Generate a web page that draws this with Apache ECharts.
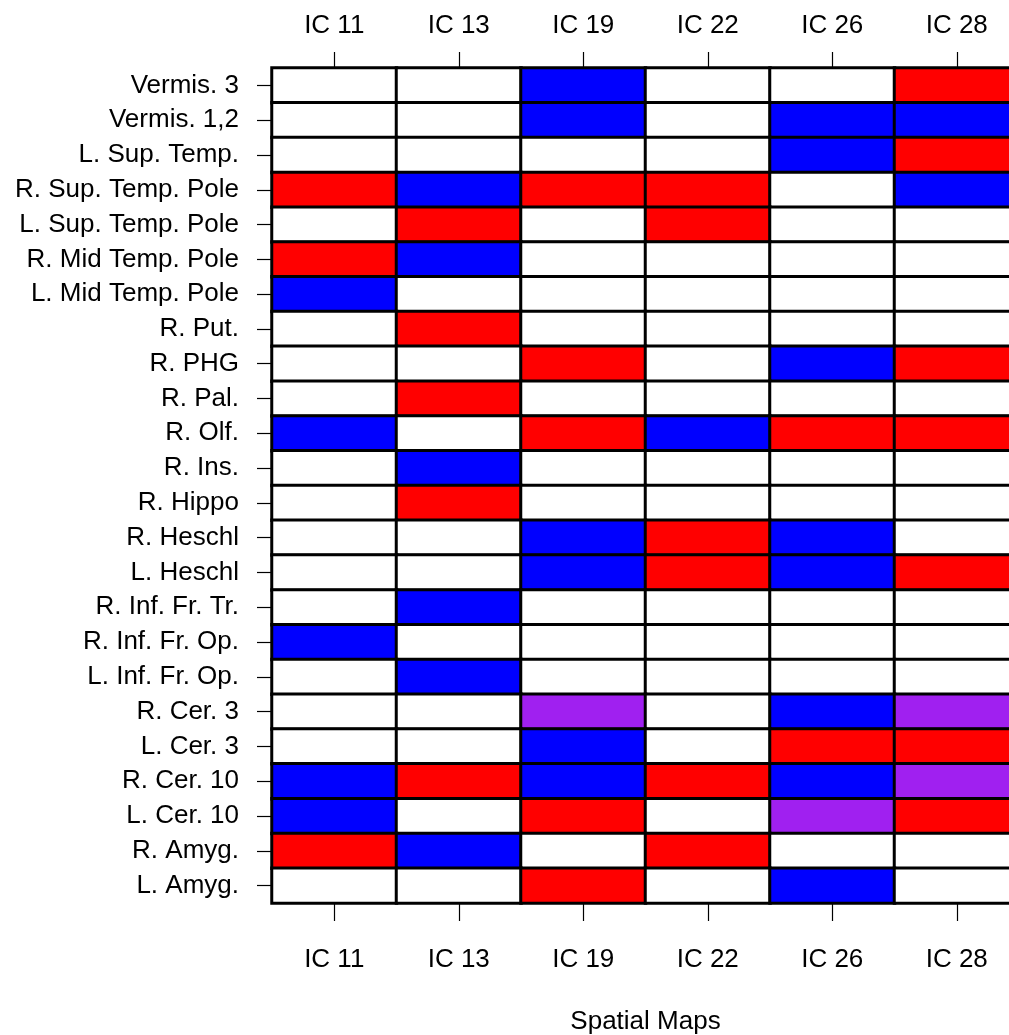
<!DOCTYPE html>
<html>
<head>
<meta charset="utf-8">
<title>Spatial Maps</title>
<script src="https://cdn.jsdelivr.net/npm/echarts@6/dist/echarts.min.js"></script>
<style>
  html, body { margin: 0; padding: 0; background: #fff; }
  #chart { width: 1009px; height: 1035px; }
</style>
</head>
<body>
<div id="chart"></div>
<script>
// Independent components (columns)
const components = ['IC 11', 'IC 13', 'IC 19', 'IC 22', 'IC 26', 'IC 28'];

// Brain regions, listed top to bottom
const regions = [
  'Vermis. 3', 'Vermis. 1,2', 'L. Sup. Temp.', 'R. Sup. Temp. Pole',
  'L. Sup. Temp. Pole', 'R. Mid Temp. Pole', 'L. Mid Temp. Pole', 'R. Put.',
  'R. PHG', 'R. Pal.', 'R. Olf.', 'R. Ins.', 'R. Hippo', 'R. Heschl',
  'L. Heschl', 'R. Inf. Fr. Tr.', 'R. Inf. Fr. Op.', 'L. Inf. Fr. Op.',
  'R. Cer. 3', 'L. Cer. 3', 'R. Cer. 10', 'L. Cer. 10', 'R. Amyg.', 'L. Amyg.'
];

// Cell state per region: 0 = none, 1 = positive, -1 = negative, 2 = both
const states = [
  [ 0,  0, -1,  0,  0,  1],
  [ 0,  0, -1,  0, -1, -1],
  [ 0,  0,  0,  0, -1,  1],
  [ 1, -1,  1,  1,  0, -1],
  [ 0,  1,  0,  1,  0,  0],
  [ 1, -1,  0,  0,  0,  0],
  [-1,  0,  0,  0,  0,  0],
  [ 0,  1,  0,  0,  0,  0],
  [ 0,  0,  1,  0, -1,  1],
  [ 0,  1,  0,  0,  0,  0],
  [-1,  0,  1, -1,  1,  1],
  [ 0, -1,  0,  0,  0,  0],
  [ 0,  1,  0,  0,  0,  0],
  [ 0,  0, -1,  1, -1,  0],
  [ 0,  0, -1,  1, -1,  1],
  [ 0, -1,  0,  0,  0,  0],
  [-1,  0,  0,  0,  0,  0],
  [ 0, -1,  0,  0,  0,  0],
  [ 0,  0,  2,  0, -1,  2],
  [ 0,  0, -1,  0,  1,  1],
  [-1,  1, -1,  1, -1,  2],
  [-1,  0,  1,  0,  2,  1],
  [ 1, -1,  0,  1,  0,  0],
  [ 0,  0,  1,  0, -1,  0]
];

const cells = [];
states.forEach((row, r) => {
  row.forEach((v, c) => cells.push([c, r, v]));
});

const FONT = 'Liberation Sans, Arial, sans-serif';
const labelStyle = { color: '#000', fontSize: 26, fontFamily: FONT };
const tickStyle = { color: '#000', width: 1.2 };

const chart = echarts.init(document.getElementById('chart'), null, { renderer: 'canvas' });

chart.setOption({
  backgroundColor: '#fff',
  animation: false,
  grid: {
    left: 272, top: 68, width: 747, height: 835,
    containLabel: false,
    outerBoundsMode: 'none'
  },
  xAxis: [
    {
      type: 'category',
      data: components,
      position: 'bottom',
      axisLine: { show: false },
      axisTick: { show: true, alignWithLabel: true, length: 18, lineStyle: tickStyle },
      axisLabel: Object.assign({ margin: 44 }, labelStyle),
      splitLine: { show: false },
      name: 'Spatial Maps',
      nameLocation: 'middle',
      nameGap: 106,
      nameTextStyle: labelStyle
    },
    {
      type: 'category',
      data: components,
      position: 'top',
      axisLine: { show: false },
      axisTick: { show: true, alignWithLabel: true, length: 16, lineStyle: tickStyle },
      axisLabel: Object.assign({ margin: 29 }, labelStyle),
      splitLine: { show: false }
    }
  ],
  yAxis: {
    type: 'category',
    data: regions,
    inverse: true,
    axisLine: { show: false },
    axisTick: { show: true, alignWithLabel: true, length: 15, lineStyle: tickStyle },
    axisLabel: Object.assign({ margin: 33 }, labelStyle),
    splitLine: { show: false }
  },
  visualMap: {
    show: false,
    type: 'piecewise',
    dimension: 2,
    pieces: [
      { value: 0, color: '#ffffff' },
      { value: 1, color: '#ff0000' },
      { value: -1, color: '#0000ff' },
      { value: 2, color: '#a020f0' }
    ]
  },
  series: [{
    type: 'heatmap',
    xAxisIndex: 0,
    yAxisIndex: 0,
    data: cells,
    itemStyle: { borderColor: '#000', borderWidth: 3 },
    emphasis: { disabled: true },
    label: { show: false }
  }]
});
</script>
</body>
</html>
